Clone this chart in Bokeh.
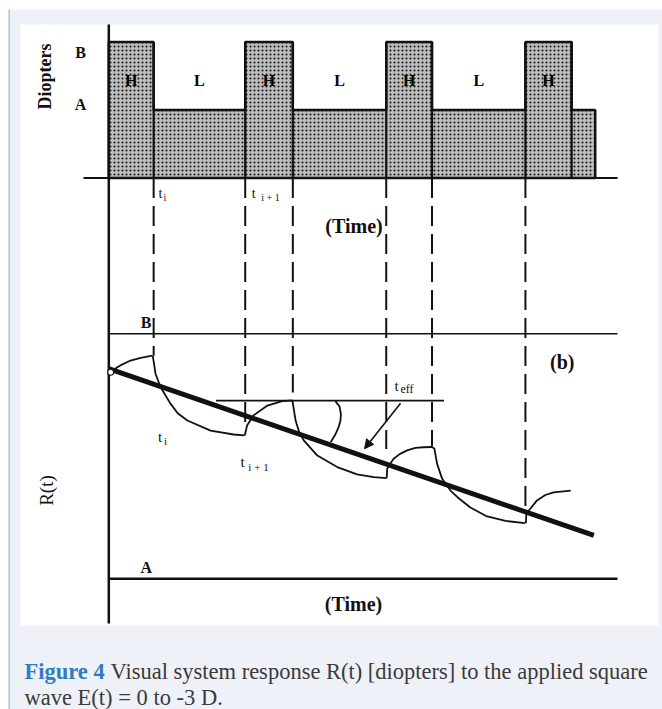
from bokeh.plotting import figure
from bokeh.models import Range1d, Arrow, NormalHead
from bokeh.core.properties import value
from bokeh.embed import file_html
from bokeh.resources import INLINE

# ---------------- data ----------------
# square wave E(t): segment boundaries (time units) and level of each segment (A=1, B=2)
wave_t = [0.0, 0.97, 2.95, 3.98, 6.00, 6.99, 9.01, 10.01, 10.52]
wave_level = [2, 1, 2, 1, 2, 1, 2, 1]
wave_names = ["H", "L", "H", "L", "H", "L", "H", ""]
level_A = 1
level_B = 2

# transition times marked with dashed lines, and where each dash ends (R units)
dash_t = [0.97, 2.95, 3.98, 6.00, 6.99, 9.01]
dash_end_r = [1.91, 1.61, 1.76, 1.53, 1.54, 1.27]

# response R(t): alternating rise / fall pieces
resp_t = [
    [0.04, 0.15, 0.25, 0.47, 0.69, 0.94],
    [0.95, 0.98, 1.01, 1.12, 1.33, 1.49, 1.70, 2.20, 2.70, 2.93],
    [2.94, 2.99, 3.13, 3.43, 3.75, 3.97],
    [3.97, 4.04, 4.12, 4.22, 4.51, 4.94, 5.37, 5.73, 6.01],
    [6.01, 6.02, 6.09, 6.16, 6.29, 6.45, 6.63, 6.81, 6.99],
    [6.99, 7.04, 7.10, 7.21, 7.39, 7.54, 7.82, 8.16, 8.58, 9.00],
    [9.02, 9.03, 9.12, 9.26, 9.44, 9.62, 9.99],
]
resp_r = [
    [1.843, 1.859, 1.871, 1.891, 1.902, 1.911],
    [1.911, 1.875, 1.837, 1.782, 1.716, 1.676, 1.646, 1.605, 1.589, 1.585],
    [1.585, 1.626, 1.667, 1.707, 1.725, 1.728],
    [1.728, 1.646, 1.597, 1.564, 1.503, 1.456, 1.426, 1.415, 1.411],
    [1.411, 1.449, 1.471, 1.490, 1.509, 1.524, 1.534, 1.537, 1.538],
    [1.538, 1.532, 1.469, 1.408, 1.360, 1.333, 1.291, 1.256, 1.236, 1.227],
    [1.227, 1.267, 1.287, 1.320, 1.342, 1.353, 1.360],
]
# mean trend line
trend_t = [0.01, 10.49]
trend_r = [1.857, 1.177]
# t_eff horizontal reference
teff_t = [2.32, 7.25]
teff_r = [1.727, 1.727]
# small arc under the t_eff line
arc_t = [4.90, 4.99, 5.02, 5.01, 4.97, 4.90, 4.80]
arc_r = [1.725, 1.703, 1.673, 1.646, 1.619, 1.589, 1.558]
# arrow pointing at the trend line
arrow_t = [6.31, 5.53]
arrow_r = [1.717, 1.531]

# ---------------- layout constants (page pixels) ----------------
W, H = 662, 709
X0_PX, X_SCALE = 108.3, 46.24      # time 0 and px per time unit
Y0_PX, Y_SCALE = 177.5, 68.0       # top panel baseline and px per diopter step
RA_PX, R_SCALE = 578.3, 245.0      # R panel: level A and px per unit

BG = "#eff1f8"
INK = "#111111"
SERIF = "Liberation Serif"


def tx(px):
    return (px - X0_PX) / X_SCALE


def vy(py):
    return (Y0_PX - py) / Y_SCALE


def r_to_v(r):
    return vy(RA_PX - R_SCALE * (r - 1))


p = figure(width=W, height=H, output_backend="svg", toolbar_location=None,
           x_range=Range1d(tx(0), tx(W)), y_range=Range1d(vy(H), vy(0)),
           x_axis_type=None, y_axis_type=None, min_border=0,
           background_fill_color="white", border_fill_color="white", outline_line_color=None)
p.extra_y_ranges = {"resp": Range1d(1 + (RA_PX - H) / R_SCALE, 1 + RA_PX / R_SCALE)}
p.grid.visible = False

# page decoration: lavender box, blue left rule, white panel
p.quad(left=[tx(9)], right=[tx(W) + 1], top=[vy(9)], bottom=[vy(H) - 1],
       fill_color=BG, line_color=None)
p.segment(x0=[tx(8.7)], y0=[vy(9)], x1=[tx(8.7)], y1=[vy(H) - 1], line_color="#a8c6ea", line_width=1.6)
p.quad(left=[tx(20)], right=[tx(658)], top=[vy(24)], bottom=[vy(625)],
       fill_color="white", line_color=None)


def label(px, py, txt, size, bold=True, angle=0.0, align="center", baseline="middle",
          color=INK, font=SERIF):
    p.text(x=[tx(px)], y=[vy(py)], text=[txt], angle=angle, text_font=value(font),
           text_font_size=f"{size}px", text_font_style="bold" if bold else "normal",
           text_align=align, text_baseline=baseline, text_color=color)


# ---------------- top panel: square wave ----------------
xs, ys = [wave_t[0]], [0]
for i, lev in enumerate(wave_level):
    xs += [wave_t[i], wave_t[i + 1]]
    ys += [lev, lev]
xs.append(wave_t[-1])
ys.append(0)
p.patch(xs, ys, fill_color="#bdbdbd", hatch_pattern="dot", hatch_color="#101010",
        hatch_scale=4, hatch_weight=2.3, line_color=INK, line_width=2.5)
inner = wave_t[1:-1]
p.segment(x0=inner, y0=[0] * len(inner), x1=inner, y1=[level_B] * len(inner),
          line_color=INK, line_width=2.2)

# axes of the top panel
p.segment(x0=[0], y0=[vy(24)], x1=[0], y1=[vy(623)], line_color=INK, line_width=2.5)
p.segment(x0=[tx(83)], y0=[0], x1=[tx(617)], y1=[0], line_color=INK, line_width=2.2)

# H / L names at segment middles
mids = [(wave_t[i] + wave_t[i + 1]) / 2 for i in range(len(wave_level))]
named = [(m, n) for m, n in zip(mids, wave_names) if n]
p.text(x=[m for m, n in named], y=[vy(80)] * len(named), text=[n for m, n in named],
       text_font=value(SERIF), text_font_size="16px", text_font_style="bold",
       text_align="center", text_baseline="middle", text_color="#000000")

# dashed transition markers
p.segment(x0=dash_t, y0=[0] * len(dash_t), x1=dash_t, y1=[r_to_v(r) for r in dash_end_r],
          line_color=INK, line_width=2, line_dash="20 8")

# ---------------- bottom panel: response ----------------
p.segment(x0=[0, 0], y0=[level_B, level_A], x1=[tx(617), tx(617)], y1=[level_B, level_A],
          line_color=INK, line_width=[1.6, 2.6], y_range_name="resp")
p.line(teff_t, teff_r, line_color=INK, line_width=1.7, y_range_name="resp")
p.multi_line(xs=resp_t, ys=resp_r, line_color=INK, line_width=1.8, y_range_name="resp")
p.line(arc_t, arc_r, line_color=INK, line_width=1.8, y_range_name="resp")
p.line(trend_t, trend_r, line_color=INK, line_width=5, y_range_name="resp")
p.scatter([resp_t[0][0]], [resp_r[0][0]], size=6, fill_color="white", line_color=INK,
          line_width=1.2, y_range_name="resp")
p.add_layout(Arrow(end=NormalHead(size=9, fill_color=INK, line_color=INK),
                   x_start=arrow_t[0], y_start=arrow_r[0], x_end=arrow_t[1], y_end=arrow_r[1],
                   line_color=INK, line_width=1.6, y_range_name="resp"))

# ---------------- texts ----------------
label(44.5, 76, "Diopters", 18, angle=1.5708)
label(80, 51.5, "B", 16)
label(80, 103.5, "A", 16)
label(160, 193, "t", 14, bold=False)
label(164.5, 197, "i", 10, bold=False)
label(253.3, 193, "t", 14, bold=False)
label(270, 197, "i + 1", 10, bold=False)
label(353.5, 225, "(Time)", 20)

label(145.5, 322, "B", 16)
label(561.7, 361.7, "(b)", 20)
label(396, 385, "t", 15, bold=False)
label(406.5, 388.5, "eff", 12, bold=False)
label(159.5, 436, "t", 15, bold=False)
label(165, 440, "i", 11, bold=False)
label(242, 461.7, "t", 15, bold=False)
label(258, 466.7, "i + 1", 11, bold=False)
label(45.6, 490, "R(t)", 19, bold=False, angle=1.5708)
label(145.7, 566.7, "A", 16)
label(353, 603, "(Time)", 20)

# caption
label(24, 671, "Figure 4", 22.5, bold=True, align="left", baseline="alphabetic", color="#2f7cc2")
label(110, 671, "Visual system response R(t) [diopters] to the applied square", 22.5,
      bold=False, align="left", baseline="alphabetic", color="#3a3a3a")
label(24, 697, "wave E(t) = 0 to -3 D.", 22.5, bold=False, align="left", baseline="alphabetic",
      color="#3a3a3a")

open("out.html", "w").write(file_html(p, INLINE))
